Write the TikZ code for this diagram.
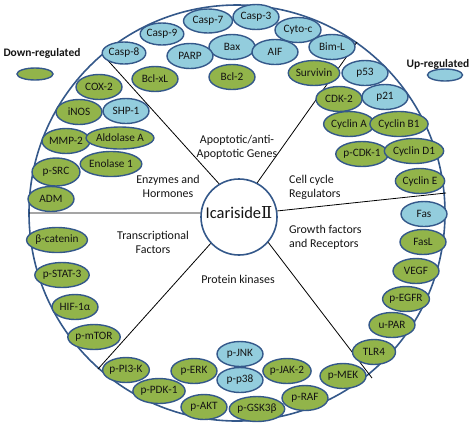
\documentclass[tikz,border=0pt]{standalone}
\usepackage{fontspec}
\setmainfont{Carlito}
\newfontfamily\numfont{DejaVu Serif}
\usetikzlibrary{shapes.geometric}
\definecolor{gfill}{RGB}{146,180,74}
\definecolor{bfill}{RGB}{147,205,221}
\definecolor{edge}{RGB}{52,88,138}
\definecolor{txt}{RGB}{20,20,20}
\tikzset{
  pill/.style={ellipse, draw=edge, line width=1.4bp, inner sep=0pt, minimum width=46bp, minimum height=25bp, text=txt, font=\fontsize{11.3}{12}\selectfont},
  gr/.style={pill, fill=gfill},
  bl/.style={pill, fill=bfill},
  seclabel/.style={font=\fontsize{12}{14}\selectfont, text=txt, inner sep=0pt},
  legend/.style={font=\bfseries\fontsize{11.5}{13}\selectfont, text=txt, inner sep=0pt},
  divider/.style={draw=black, line width=0.8bp}
}
\begin{document}
\begin{tikzpicture}[x=1bp,y=-1bp]
\useasboundingbox (0,0) rectangle (474,428);
% big circle
\node[circle, draw=edge, line width=1.6bp, minimum size=416bp, inner sep=0pt] (big) at (237,213) {};
% small circle
\node[circle, draw=edge, line width=1.6bp, fill=white, minimum size=76bp, inner sep=0pt] (c) at (239,217) {};
\node[inner sep=0pt, font=\fontsize{16.5}{18}\selectfont, text=txt] (ctext) at (239,213) {Icariside{\numfont Ⅱ}};
% dividers
\coordinate (o1) at (103,55);
\coordinate (o2) at (357,42);
\coordinate (o3) at (29,213);
\coordinate (o4) at (446,193);
\coordinate (o5) at (98,369);
\coordinate (o6) at (372,378);
\draw[divider] (o1) -- (c.121);
\draw[divider] (o2) -- (c.62);
\draw[divider] (o3) -- (c.174);
\draw[divider] (o4) -- (c.9);
\draw[divider] (o5) -- (c.223);
\draw[divider] (o6) -- (c.-41);
% sector labels
\node[seclabel, align=center] (l1) at (237,147) {Apoptotic/anti-\\Apoptotic Genes};
\node[seclabel, align=center] (l2) at (168,186) {Enzymes and\\Hormones};
\node[seclabel, align=left, anchor=west] (l3) at (289,187) {Cell cycle\\Regulators};
\node[seclabel, align=center] (l4) at (153,242) {Transcriptional\\Factors};
\node[seclabel, align=left, anchor=west] (l5) at (289,237) {Growth factors\\and Receptors};
\node[seclabel] (l6) at (238,279) {Protein kinases};
% legend
\node[legend] (dl) at (42,53) {Down-regulated};
\node[ellipse, draw=edge, line width=1.4bp, fill=gfill, minimum width=36bp, minimum height=12bp, inner sep=0pt] (dle) at (35,74) {};
\node[legend] (ul) at (438,64) {Up-regulated};
\node[ellipse, draw=edge, line width=1.4bp, fill=bfill, minimum width=35bp, minimum height=12bp, inner sep=0pt] (ule) at (445,75) {};
% apoptotic
\node[bl, minimum width=40bp, minimum height=22bp] (casp8) at (124,53) {Casp-8};
\node[bl, minimum width=42bp, minimum height=22bp] (casp9) at (162,34) {Casp-9};
\node[bl, minimum width=49bp, minimum height=24bp] (casp7) at (208,21) {Casp-7};
\node[bl] (casp3) at (256,17) {Casp-3};
\node[bl] (cytoc) at (298,30) {Cyto-c};
\node[bl] (bax) at (232,47) {Bax};
\node[bl] (parp) at (190,56) {PARP};
\node[bl] (aif) at (275,52) {AIF};
\node[bl] (biml) at (332,47) {Bim-L};
\node[gr] (bclxl) at (155,79) {Bcl-xL};
\node[gr] (bcl2) at (232,77) {Bcl-2};
\node[gr] (surv) at (314,73) {Survivin};
% cell cycle
\node[bl] (p53) at (365,73) {p53};
\node[gr] (cdk2) at (339,99) {CDK-2};
\node[bl] (p21) at (385,97) {p21};
\node[gr, minimum width=42bp] (cyca) at (349,124) {Cyclin A};
\node[gr] (cycb) at (399,124) {Cyclin B1};
\node[gr] (pcdk1) at (362,154) {p-CDK-1};
\node[gr] (cycd) at (414,151) {Cyclin D1};
\node[gr] (cyce) at (420,181) {Cyclin E};
% growth factors
\node[bl] (fas) at (424,214) {Fas};
\node[gr] (fasl) at (423,242) {FasL};
\node[gr] (vegf) at (416,271) {VEGF};
\node[gr] (pegfr) at (406,299) {p-EGFR};
\node[gr] (upar) at (392,325) {u-PAR};
\node[gr, minimum width=43bp] (tlr4) at (374,352) {TLR4};
% protein kinases
\node[gr] (pmek) at (343,376) {p-MEK};
\node[gr] (praf) at (305,398) {p-RAF};
\node[gr] (pjak2) at (287,371) {p-JAK-2};
\node[gr] (pgsk) at (257,409) {p-GSK3β};
\node[bl] (pjnk) at (240,354) {p-JNK};
\node[bl] (pp38) at (240,380) {p-p38};
\node[gr] (pakt) at (204,407) {p-AKT};
\node[gr] (perk) at (194,371) {p-ERK};
\node[gr] (ppdk1) at (159,391) {p-PDK-1};
\node[gr] (ppi3k) at (126,370) {p-PI3-K};
% transcriptional
\node[gr] (pmtor) at (94,337) {p-mTOR};
\node[gr] (hif) at (75,307) {HIF-1α};
\node[gr, minimum width=51bp] (pstat) at (62,275) {p-STAT-3};
\node[gr, minimum width=57bp] (bcat) at (57,240) {β-catenin};
% enzymes
\node[gr] (adm) at (51,199) {ADM};
\node[gr, minimum width=48bp, minimum height=28bp] (psrc) at (56,172) {p-SRC};
\node[gr] (mmp2) at (66,141) {MMP-2};
\node[gr, minimum width=56bp] (enol) at (111,164) {Enolase 1};
\node[gr, minimum width=55bp, minimum height=22bp] (aldo) at (120,138) {Aldolase A};
\node[gr] (inos) at (79,112) {iNOS};
\node[bl] (shp1) at (126,111) {SHP-1};
\node[gr] (cox2) at (99,87) {COX-2};
\end{tikzpicture}
\end{document}
